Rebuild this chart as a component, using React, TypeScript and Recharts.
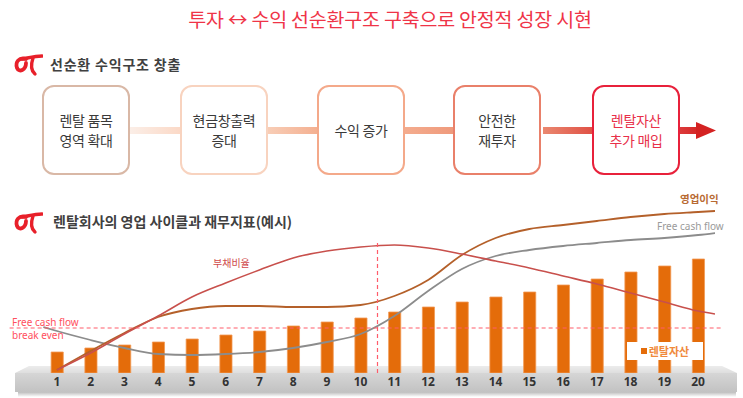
import React from 'react';
import {
  ComposedChart,
  Bar,
  Line,
  XAxis,
  YAxis,
  ReferenceLine,
  Legend,
} from 'recharts';

// ---- data ----
const periods = [1, 2, 3, 4, 5, 6, 7, 8, 9, 10, 11, 12, 13, 14, 15, 16, 17, 18, 19, 20];
const rentalAssets = [21, 25, 28, 31, 34, 38, 42, 47, 51, 55, 61, 66, 71, 76, 81, 88, 94, 101, 107, 114];
const debtRatio = [3, 20, 39, 57, 76, 90, 103, 115, 122, 126, 128, 125, 119, 112, 105, 97, 89, 80, 71, 62];
const operatingProfit = [3, 22, 40, 56, 64, 67, 67, 66, 66, 68, 77, 93, 118, 135, 144, 148, 152, 156, 159, 161];
const freeCashFlow = [42, 33, 25, 19, 18, 19, 21, 25, 31, 39, 57, 82, 104, 117, 123, 127, 130, 133, 135, 138];
const leadInPeriod = 0.6;
const tailPeriod = 20.5;
const freeCashFlowStart = 46;
const debtRatioEnd = 59;
const operatingProfitEnd = 162;
const freeCashFlowEnd = 140;
const breakEvenLevel = 45;
const cycleTurnPeriod = 10.5;
const cycleTurnTop = 133;

const flowSteps = [
  ['렌탈 품목', '영역 확대'],
  ['현금창출력', '증대'],
  ['수익 증가'],
  ['안전한', '재투자'],
  ['렌탈자산', '추가 매입'],
];

const barRows = periods.map((p, i) => ({ period: p, rental: rentalAssets[i] }));
const debtRows = [
  ...periods.map((p, i) => ({ period: p, debt: debtRatio[i] })),
  { period: tailPeriod, debt: debtRatioEnd },
];
const opRows = [
  ...periods.map((p, i) => ({ period: p, op: operatingProfit[i] })),
  { period: tailPeriod, op: operatingProfitEnd },
];
const fcfRows = [
  { period: leadInPeriod, fcf: freeCashFlowStart },
  ...periods.map((p, i) => ({ period: p, fcf: freeCashFlow[i] })),
  { period: tailPeriod, fcf: freeCashFlowEnd },
];

const KR = '"Noto Sans CJK KR", "Noto Sans", sans-serif';
const LAT = '"Noto Sans", "Noto Sans CJK KR", sans-serif';

const boxLefts = [42, 180, 317, 453, 592];
const boxBorders = ['#d9b8a6', '#f8d3bf', '#f4a98a', '#e9806a', '#e8213b'];
const connectors = [
  { left: 130, width: 50, bg: 'linear-gradient(90deg,#fbeee7,#fbd9c7)' },
  { left: 268, width: 49, bg: 'linear-gradient(90deg,#f8cdb6,#f4b091)' },
  { left: 405, width: 48, bg: 'linear-gradient(90deg,#f4ac8e,#ef9a7c)' },
  { left: 543, width: 49, bg: 'linear-gradient(90deg,#ea8870,#e05246)' },
];

const Logo = ({ left, top }: { left: number; top: number }) => (
  <svg style={{ position: 'absolute', left, top }} width={30} height={24} viewBox="0 0 30 24">
    <path d="M13 6 C 6 4, 2 9, 4 15 C 6 20, 13 17, 13 10" fill="none" stroke="#e8202a" strokeWidth={3.8} strokeLinecap="round" />
    <path d="M9 6 C 15 5, 22 3, 29 3" fill="none" stroke="#e8202a" strokeWidth={3.4} strokeLinecap="round" />
    <path d="M20 5 C 18 11, 17 17, 22 21" fill="none" stroke="#e8202a" strokeWidth={3.4} strokeLinecap="round" />
  </svg>
);

const LegendContent = () => (
  <div
    style={{
      background: '#fff',
      width: 76,
      height: 18,
      display: 'flex',
      alignItems: 'center',
      justifyContent: 'center',
      fontFamily: KR,
      fontSize: 11,
      fontWeight: 700,
      color: '#f08a3c',
      lineHeight: 1,
    }}
  >
    <span style={{ display: 'inline-block', width: 6, height: 6, background: '#e46c0a', marginRight: 2 }} />
    렌탈자산
  </div>
);

export default function App() {
  return (
    <div
      style={{
        position: 'absolute',
        left: 0,
        top: 0,
        width: 743,
        height: 398,
        background: '#fff',
        overflow: 'hidden',
        fontFamily: KR,
      }}
    >
      {/* title */}
      <div
        style={{
          position: 'absolute',
          left: 0,
          top: 9,
          width: 780,
          textAlign: 'center',
          fontSize: 19.5,
          lineHeight: 1,
          letterSpacing: -0.2,
          color: '#ef3447',
        }}
      >
        투자 ↔ 수익 선순환구조 구축으로 안정적 성장 시현
      </div>

      {/* section 1 header */}
      <Logo left={13} top={53} />
      <div style={{ position: 'absolute', left: 50, top: 57, fontSize: 14, lineHeight: 1, fontWeight: 700, color: '#404040', letterSpacing: 0.8 }}>
        선순환 수익구조 창출
      </div>

      {/* flow connectors */}
      {connectors.map((c, i) => (
        <div key={'c' + i} style={{ position: 'absolute', left: c.left, top: 127, width: c.width, height: 7, background: c.bg }} />
      ))}
      <div style={{ position: 'absolute', left: 680, top: 127, width: 20, height: 7, background: 'linear-gradient(90deg,#dc3a3a,#d42525)' }} />
      <svg style={{ position: 'absolute', left: 0, top: 0 }} width={743} height={398}>
        <polygon points="696,122 716,130.5 696,139" fill="#d42222" />
      </svg>

      {/* flow boxes */}
      {flowSteps.map((lines, i) => (
        <div
          key={'b' + i}
          style={{
            position: 'absolute',
            left: boxLefts[i],
            top: 85,
            width: 88,
            height: 90,
            boxSizing: 'border-box',
            border: `2px solid ${boxBorders[i]}`,
            borderRadius: 12,
            background: '#fff',
            display: 'flex',
            flexDirection: 'column',
            alignItems: 'center',
            justifyContent: 'center',
            fontSize: 14,
            lineHeight: '20px',
            letterSpacing: -0.3,
            color: i === 4 ? '#e8304a' : '#3a3a3a',
          }}
        >
          {lines.map((t) => (
            <div key={t}>{t}</div>
          ))}
        </div>
      ))}

      {/* section 2 header */}
      <Logo left={13} top={211} />
      <div style={{ position: 'absolute', left: 53, top: 214, fontSize: 14, lineHeight: 1, fontWeight: 700, color: '#404040' }}>
        렌탈회사의 영업 사이클과 재무지표(예시)
      </div>

      {/* platform */}
      <svg style={{ position: 'absolute', left: 0, top: 0 }} width={743} height={398}>
        <defs>
          <linearGradient id="pfFront" x1="0" y1="0" x2="0" y2="1">
            <stop offset="0" stopColor="#d6d6d6" />
            <stop offset="1" stopColor="#c2c2c2" />
          </linearGradient>
          <linearGradient id="pfTop" x1="0" y1="0" x2="0" y2="1">
            <stop offset="0" stopColor="#ececec" />
            <stop offset="1" stopColor="#dedede" />
          </linearGradient>
          <linearGradient id="pfShadow" x1="0" y1="0" x2="0" y2="1">
            <stop offset="0" stopColor="#bdbdbd" />
            <stop offset="1" stopColor="#ffffff" />
          </linearGradient>
        </defs>
        <rect x={18} y={392} width={718} height={5} fill="url(#pfShadow)" />
        <polygon points="29,366 722,366 737,373 15,373" fill="url(#pfTop)" />
        <rect x={15} y={373} width={722} height={19} fill="url(#pfFront)" />
      </svg>

      {/* chart */}
      <div style={{ position: 'absolute', left: 0, top: 0 }}>
        <ComposedChart width={743} height={398} data={barRows} margin={{ top: 180, right: 28, bottom: 0, left: 40 }}>
          <XAxis
            dataKey="period"
            type="number"
            domain={[0.5, 20.5]}
            ticks={periods}
            allowDataOverflow
            axisLine={false}
            tickLine={false}
            tickSize={4}
            tickMargin={0}
            height={25}
            interval={0}
            tick={{ fontSize: 12, fontWeight: 700, fill: '#333', fontFamily: LAT }}
          />
          <YAxis hide domain={[0, 193]} allowDataOverflow />
          <Bar dataKey="rental" name="렌탈자산" fill="#e46c0a" stroke="#f29a55" strokeWidth={0.8} barSize={17} isAnimationActive={false} />
          <Line data={fcfRows} dataKey="fcf" type="monotone" stroke="#8c8c8c" strokeWidth={1.8} dot={false} activeDot={false} isAnimationActive={false} />
          <Line data={opRows} dataKey="op" type="monotone" stroke="#b4602a" strokeWidth={1.8} dot={false} activeDot={false} isAnimationActive={false} />
          <Line data={debtRows} dataKey="debt" type="monotone" stroke="#c8504c" strokeWidth={1.6} dot={false} activeDot={false} isAnimationActive={false} />
          <ReferenceLine
            segment={[{ x: -0.4, y: breakEvenLevel }, { x: 20.7, y: breakEvenLevel }]}
            stroke="#ff5c6a"
            strokeDasharray="4 3"
            strokeWidth={1.2}
            ifOverflow="visible"
          />
          <ReferenceLine
            segment={[{ x: cycleTurnPeriod, y: 0 }, { x: cycleTurnPeriod, y: cycleTurnTop }]}
            stroke="#ff5c6a"
            strokeDasharray="4 3"
            strokeWidth={1.2}
            ifOverflow="visible"
          />
          <Legend
            layout="horizontal"
            verticalAlign="middle"
            align="center"
            content={<LegendContent />}
            wrapperStyle={{ position: 'absolute', left: 627, top: 342, right: 'auto', width: 76, height: 18, bottom: 'auto' }}
          />
        </ComposedChart>
      </div>

      {/* series labels */}
      <div style={{ position: 'absolute', left: 680, top: 194, fontSize: 10.5, lineHeight: 1, fontWeight: 600, color: '#b86a32' }}>영업이익</div>
      <div style={{ position: 'absolute', left: 657, top: 221, fontSize: 10, lineHeight: 1, fontFamily: LAT, color: '#9a9a9a' }}>Free cash flow</div>
      <div style={{ position: 'absolute', left: 213, top: 258, fontSize: 10, lineHeight: 1, color: '#d04a4a' }}>부채비율</div>
      <div style={{ position: 'absolute', left: 12, top: 316, fontSize: 10, lineHeight: '12.5px', fontFamily: LAT, color: '#ff5060' }}>
        Free cash flow
        <br />
        break even
      </div>
    </div>
  );
}
